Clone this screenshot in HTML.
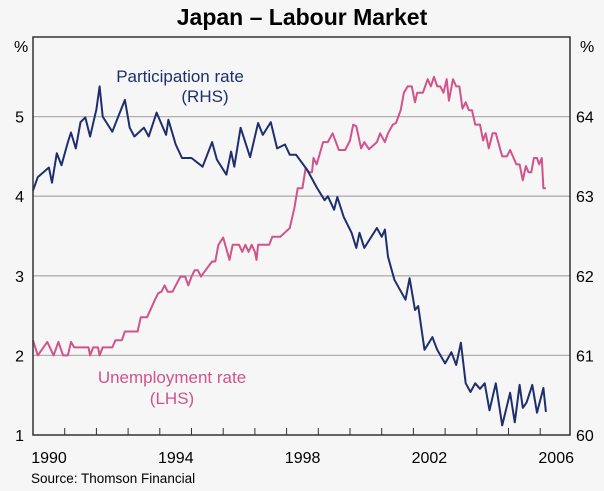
<!DOCTYPE html>
<html><head><meta charset="utf-8"><style>
body{margin:0;background:#f6f6f6;}
svg{display:block;font-family:"Liberation Sans",sans-serif;}
</style></head><body>
<svg width="604" height="491" viewBox="0 0 604 491">
<rect x="0" y="0" width="604" height="491" fill="#f6f6f6"/>
<text x="302" y="25" text-anchor="middle" font-size="23" font-weight="bold" fill="#000">Japan – Labour Market</text>
<g id="grid"></g>
<g id="series"></g>
<rect x="33" y="37" width="537" height="398" fill="none" stroke="#333" stroke-width="1.5"/>
<g id="axes"></g>
<text x="14" y="52" font-size="16">%</text>
<text x="580" y="52" font-size="16">%</text>
<text x="180" y="82" text-anchor="middle" font-size="17" fill="#1f2f6e">Participation rate</text>
<text x="205" y="102" text-anchor="middle" font-size="17" fill="#1f2f6e">(RHS)</text>
<text x="172" y="383" text-anchor="middle" font-size="17" fill="#d0548a">Unemployment rate</text>
<text x="172" y="404" text-anchor="middle" font-size="17" fill="#d0548a">(LHS)</text>
<text x="31" y="483" font-size="13.5">Source: Thomson Financial</text>
</svg>
<script>
const leftTicks=[1,2,3,4,5];
const rightTicks=[60,61,62,63,64];
const yearLabels=[1990,1994,1998,2002,2006];
const partYears=[1990.0,1990.15,1990.5,1990.6,1990.75,1990.9,1991.1,1991.2,1991.35,1991.5,1991.65,1991.8,1992.0,1992.1,1992.2,1992.5,1992.65,1992.9,1993.05,1993.2,1993.5,1993.65,1993.9,1994.2,1994.27,1994.5,1994.7,1995.0,1995.35,1995.65,1995.8,1996.1,1996.25,1996.35,1996.55,1996.85,1997.1,1997.25,1997.5,1997.7,1997.95,1998.1,1998.3,1998.65,1998.95,1999.2,1999.3,1999.5,1999.6,1999.8,2000.05,2000.2,2000.3,2000.45,2000.85,2001.0,2001.1,2001.2,2001.4,2001.75,2001.88,2002.05,2002.15,2002.35,2002.6,2002.75,2003.0,2003.2,2003.35,2003.5,2003.65,2003.8,2003.95,2004.1,2004.25,2004.4,2004.6,2004.8,2005.05,2005.2,2005.35,2005.45,2005.57,2005.75,2005.9,2006.1,2006.18];
const partValues=[63.07,63.24,63.36,63.17,63.54,63.39,63.68,63.8,63.6,63.93,63.99,63.75,64.09,64.38,64.0,63.81,63.96,64.21,63.86,63.75,63.86,63.75,64.05,63.77,63.96,63.65,63.48,63.48,63.37,63.68,63.46,63.27,63.56,63.37,63.86,63.49,63.92,63.77,63.93,63.6,63.65,63.52,63.52,63.33,63.11,62.95,63.0,62.83,62.99,62.74,62.54,62.35,62.54,62.35,62.6,62.49,62.58,62.24,61.95,61.7,61.97,61.57,61.62,61.07,61.23,61.07,60.9,61.04,60.88,61.16,60.65,60.54,60.65,60.58,60.65,60.31,60.65,60.12,60.53,60.16,60.63,60.34,60.41,60.63,60.28,60.59,60.29];
const unempYears=[1990.0,1990.15,1990.45,1990.65,1990.8,1990.95,1991.1,1991.2,1991.3,1991.75,1991.8,1991.9,1992.05,1992.1,1992.2,1992.5,1992.6,1992.8,1992.9,1993.3,1993.4,1993.6,1993.85,1993.95,1994.05,1994.15,1994.25,1994.4,1994.65,1994.8,1994.9,1995.0,1995.1,1995.2,1995.3,1995.5,1995.65,1995.75,1995.85,1996.0,1996.2,1996.3,1996.5,1996.6,1996.7,1996.8,1996.9,1997.0,1997.05,1997.1,1997.45,1997.55,1997.8,1998.1,1998.25,1998.35,1998.5,1998.6,1998.7,1998.8,1998.85,1998.95,1999.15,1999.3,1999.45,1999.65,1999.85,2000.0,2000.1,2000.2,2000.35,2000.45,2000.6,2000.85,2000.95,2001.1,2001.2,2001.35,2001.45,2001.6,2001.7,2001.82,2001.95,2002.05,2002.12,2002.3,2002.45,2002.55,2002.65,2002.75,2002.85,2002.95,2003.05,2003.12,2003.25,2003.35,2003.45,2003.55,2003.65,2003.75,2003.85,2003.95,2004.1,2004.2,2004.28,2004.38,2004.5,2004.6,2004.8,2004.95,2005.05,2005.25,2005.35,2005.45,2005.55,2005.63,2005.72,2005.8,2005.9,2005.97,2006.05,2006.1,2006.18];
const unempValues=[2.19,2.0,2.17,2.0,2.17,2.0,2.0,2.17,2.1,2.1,2.0,2.1,2.1,2.0,2.1,2.1,2.19,2.19,2.3,2.3,2.48,2.48,2.7,2.78,2.8,2.88,2.8,2.8,2.99,2.99,2.88,2.99,3.07,3.07,2.99,3.1,3.18,3.18,3.39,3.48,3.2,3.39,3.39,3.3,3.39,3.3,3.39,3.3,3.2,3.39,3.39,3.49,3.49,3.6,3.86,4.1,4.1,4.35,4.3,4.3,4.48,4.4,4.68,4.68,4.79,4.58,4.58,4.7,4.9,4.88,4.6,4.68,4.59,4.68,4.79,4.68,4.79,4.9,4.92,5.08,5.3,5.38,5.38,5.18,5.3,5.3,5.47,5.38,5.5,5.38,5.38,5.3,5.47,5.2,5.47,5.38,5.38,5.1,5.18,5.08,5.08,4.9,4.9,4.7,4.79,4.6,4.79,4.79,4.5,4.5,4.58,4.4,4.4,4.2,4.38,4.3,4.3,4.48,4.48,4.4,4.48,4.1,4.1];
const NS='http://www.w3.org/2000/svg';
const X0=33,X1=570,YR0=1990,PXY=31.7;
function xs(yr){return X0+(yr-YR0)*PXY;}
function yl(v){return 435-(v-1)*79.6;}
function yr(v){return 435-(v-60)*79.6;}
function mk(tag,attrs,parent){const e=document.createElementNS(NS,tag);for(const k in attrs)e.setAttribute(k,attrs[k]);parent.appendChild(e);return e;}
const grid=document.getElementById('grid'),axes=document.getElementById('axes'),ser=document.getElementById('series');
leftTicks.forEach(v=>{
  if(v>1){const l=mk('line',{x1:X0,x2:X1,y1:yl(v),y2:yl(v),stroke:'#b0b0b0','stroke-width':1.3},grid);
  
  }
  const t=mk('text',{x:24,y:yl(v)+6,'text-anchor':'end','font-size':16},axes);t.textContent=v;
  
  
});
rightTicks.forEach(v=>{
  const t=mk('text',{x:576,y:yr(v)+6,'font-size':16},axes);t.textContent=v;
  
  
});
for(let y=1991;y<=2006;y++){
  const l=mk('line',{x1:xs(y),x2:xs(y),y1:435,y2:428,stroke:'#333','stroke-width':1},axes);
  
  
}
yearLabels.forEach(y=>{
  const t=mk('text',{x:xs(y)+16,y:463,'text-anchor':'middle','font-size':16},axes);t.textContent=y;
  
  
});
const up=mk('polyline',{points:unempYears.map((y,i)=>xs(y).toFixed(1)+','+yl(unempValues[i]).toFixed(1)).join(' '),fill:'none',stroke:'#d0548a','stroke-width':2,'stroke-linejoin':'round'},ser);


const pp=mk('polyline',{points:partYears.map((y,i)=>xs(y).toFixed(1)+','+yr(partValues[i]).toFixed(1)).join(' '),fill:'none',stroke:'#1f2f6e','stroke-width':2,'stroke-linejoin':'round'},ser);


</script>
</body></html>
